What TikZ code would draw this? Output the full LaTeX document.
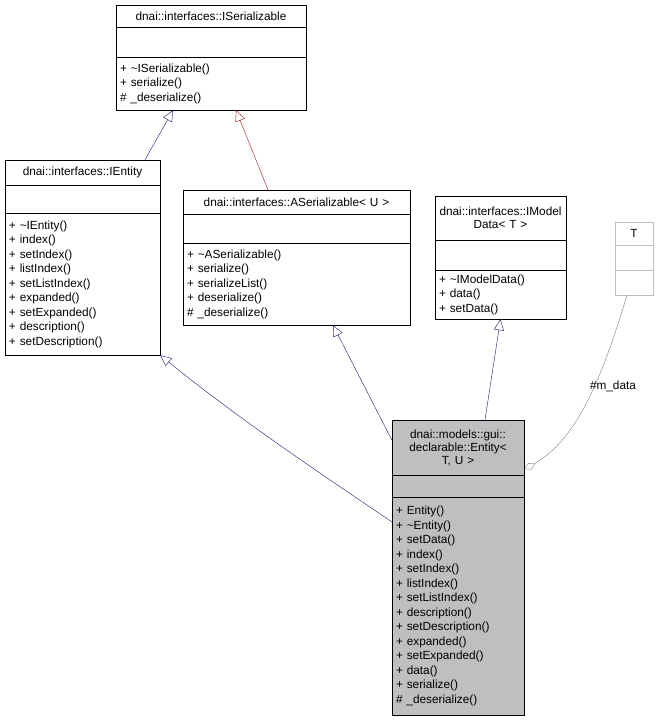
\documentclass[tikz,border=0pt]{standalone}
\usepackage{fontspec}
\setmainfont{Liberation Sans}
\usetikzlibrary{positioning,arrows.meta}
\definecolor{edgeblue}{HTML}{191970}
\definecolor{edgered}{HTML}{8B1A1A}
\definecolor{boxgray}{HTML}{BFBFBF}
\tikzset{
  part/.style={draw, inner xsep=4pt, inner ysep=0pt, font=\fontsize{11.8}{13}\selectfont},
  ttl/.style={part, align=center},
  mth/.style={part, align=left, font=\fontsize{11.8}{14.5}\selectfont},
  inh/.style={draw=edgeblue, -{Triangle[open,length=11pt,width=10pt]}},
  inhred/.style={draw=edgered, -{Triangle[open,length=11pt,width=10pt]}},
  use/.style={draw=gray, -{Diamond[open,length=13pt,width=7pt]}}
}
\begin{document}
\begin{tikzpicture}[x=1pt,y=-1pt]
\useasboundingbox (0,0) rectangle (659,721);
% ISerializable
\node[ttl, text width=182pt, minimum height=22pt] (ser) at (211,16) {dnai::interfaces::ISerializable};
\node[part, minimum width=190pt, minimum height=30pt, below=-0.4pt of ser] (sere) {};
\node[mth, text width=182pt, minimum height=53pt, below=-0.4pt of sere] (serm)
  {+ \textasciitilde ISerializable()\\+ serialize()\\\# \_deserialize()};

% IEntity
\node[ttl, text width=147pt, minimum height=25pt] (ie) at (82.5,172.5) {dnai::interfaces::IEntity};
\node[part, minimum width=155pt, minimum height=28pt, below=-0.4pt of ie] (iee) {};
\node[mth, text width=147pt, minimum height=142pt, below=-0.4pt of iee] (iem)
  {+ \textasciitilde IEntity()\\+ index()\\+ setIndex()\\+ listIndex()\\+ setListIndex()\\+ expanded()\\+ setExpanded()\\+ description()\\+ setDescription()};

% ASerializable
\node[ttl, text width=219pt, minimum height=24pt] (aser) at (296.5,202) {dnai::interfaces::ASerializable< U >};
\node[part, minimum width=227pt, minimum height=29pt, below=-0.4pt of aser] (asere) {};
\node[mth, text width=219pt, minimum height=82pt, below=-0.4pt of asere] (aserm)
  {+ \textasciitilde ASerializable()\\+ serialize()\\+ serializeList()\\+ deserialize()\\\# \_deserialize()};

% IModelData
\node[ttl, text width=123pt, minimum height=44pt] (im) at (500.5,218) {dnai::interfaces::IModel\\Data< T >};
\node[part, minimum width=131pt, minimum height=30pt, below=-0.4pt of im] (ime) {};
\node[mth, text width=123pt, minimum height=49pt, below=-0.4pt of ime] (imm)
  {+ \textasciitilde IModelData()\\+ data()\\+ setData()};

% T
\node[ttl, draw=boxgray, text width=30pt, minimum height=23pt] (t) at (634,233.5) {T};
\node[part, draw=boxgray, minimum width=38pt, minimum height=25pt, below=-0.4pt of t] (te) {};
\node[part, draw=boxgray, minimum width=38pt, minimum height=25pt, below=-0.4pt of te] (tm) {};

% Entity
\node[ttl, fill=boxgray, text width=124pt, minimum height=55pt] (ent) at (458,447.5) {dnai::models::gui::\\declarable::Entity<\\T, U >};
\node[part, fill=boxgray, minimum width=132pt, minimum height=22pt, below=-0.4pt of ent] (ente) {};
\node[mth, fill=boxgray, text width=124pt, minimum height=218pt, below=-0.4pt of ente] (entm)
  {+ Entity()\\+ \textasciitilde Entity()\\+ setData()\\+ index()\\+ setIndex()\\+ listIndex()\\+ setListIndex()\\+ description()\\+ setDescription()\\+ expanded()\\+ setExpanded()\\+ data()\\+ serialize()\\\# \_deserialize()};

% edges
\draw[inh] ([xshift=62.5pt]ie.north) -- ([xshift=-38pt]serm.south);
\draw[inhred] ([xshift=-28.5pt]aser.north) -- ([xshift=25pt]serm.south);
\draw[inh] ([yshift=-25pt]entm.north west) .. controls (330,480) and (240,420) .. (iem.south east);
\draw[inh] ([yshift=7.5pt]ent.west) -- ([xshift=36.5pt]aserm.south);
\draw[inh] ([xshift=27pt]ent.north) -- (imm.south);
\draw[use] ([xshift=-7pt]tm.south) .. controls (600,385) and (575,440) .. ([yshift=-22pt]ent.east);
\node[font=\fontsize{11.8}{13}\selectfont] (lbl) at (613,386) {\#m\_data};
\end{tikzpicture}
\end{document}
